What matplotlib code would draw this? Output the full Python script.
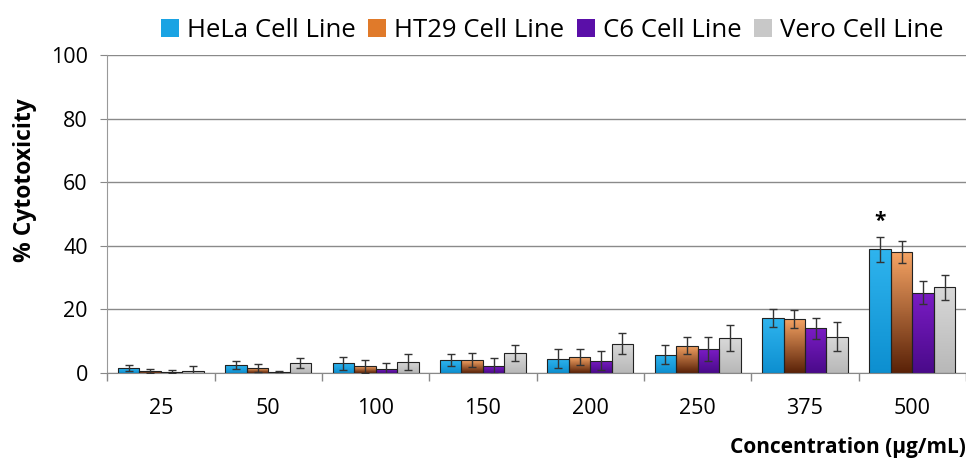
import numpy as np
import matplotlib.pyplot as plt
from matplotlib.colors import LinearSegmentedColormap
from matplotlib.patches import Patch

plt.rcParams['font.family'] = ['Open Sans', 'DejaVu Sans']

concentrations = ['25', '50', '100', '150', '200', '250', '375', '500']
series = ['HeLa Cell Line', 'HT29 Cell Line', 'C6 Cell Line', 'Vero Cell Line']

hela = [1.5, 2.5, 3.0, 4.0, 4.5, 5.7, 17.2, 38.9]
ht29 = [0.7, 1.5, 2.0, 4.0, 5.0, 8.5, 17.0, 38.1]
c6 = [0.3, 0.2, 1.2, 2.2, 3.8, 7.5, 14.0, 25.2]
vero = [0.5, 3.0, 3.5, 6.2, 9.2, 10.9, 11.4, 26.9]

hela_err = [1.0, 1.2, 2.0, 2.0, 3.0, 2.9, 2.8, 3.9]
ht29_err = [0.6, 1.2, 2.0, 2.2, 2.5, 2.7, 2.8, 3.5]
c6_err = [0.5, 0.5, 2.0, 2.5, 3.0, 3.7, 3.4, 3.6]
vero_err = [1.5, 1.6, 2.5, 2.6, 3.2, 4.0, 4.5, 4.0]

values = [hela, ht29, c6, vero]
errors = [hela_err, ht29_err, c6_err, vero_err]

# couleurs haut / bas du dégradé de chaque barre
grad = [('#2fb4ee', '#0d8fd0'),
        ('#f6a464', '#5a2208'),
        ('#7a1cc4', '#4a0a8a'),
        ('#d8d8d8', '#b8b8b8')]
legend_col = ['#1aa3e3', '#e07a2a', '#5a0fa8', '#c8c8c8']

fig = plt.figure(figsize=(9.66, 4.62), dpi=100)
ax = fig.add_axes([0.111, 0.193, 0.889, 0.688])

x = np.arange(len(concentrations))
w = 0.2
offsets = (np.arange(4) - 1.5) * w
g = np.linspace(0, 1, 64).reshape(-1, 1)

for i in range(4):
    cmap = LinearSegmentedColormap.from_list('c%d' % i, [grad[i][1], grad[i][0]])
    bars = ax.bar(x + offsets[i], values[i], w, color='none',
                  edgecolor='#222222', linewidth=0.8, zorder=3)
    for b in bars:
        x0 = b.get_x()
        h = b.get_height()
        im = ax.imshow(g, extent=[x0, x0 + w, 0, h], origin='lower',
                       aspect='auto', cmap=cmap, zorder=2)
        im.set_clip_path(b)
    ax.errorbar(x + offsets[i], values[i], yerr=errors[i], fmt='none',
                ecolor='#333333', elinewidth=1.0, capsize=3, capthick=1.0, zorder=4)

ax.text(x[-1] + offsets[0], hela[-1] + hela_err[-1] + 1.5, '*',
        ha='center', va='bottom', fontsize=15, fontweight='bold')

ax.set_xlim(-0.5, len(concentrations) - 0.5)
ax.set_ylim(0, 100)
ax.set_yticks([0, 20, 40, 60, 80, 100])
ax.yaxis.grid(True, color='#8a8a8a', linewidth=1.0)
ax.set_axisbelow(True)

ax.set_xticks(x)
ax.set_xticklabels(concentrations, fontsize=15.5)
ax.tick_params(axis='x', length=0, pad=18)
ax.set_xticks(np.arange(len(concentrations) + 1) - 0.5, minor=True)
ax.tick_params(axis='x', which='minor', length=6, color='#888888', width=1)
ax.tick_params(axis='y', length=5, color='#888888', labelsize=15.5, pad=9)

for s in ['top', 'right']:
    ax.spines[s].set_visible(False)
ax.spines['left'].set_color('#999999')
ax.spines['bottom'].set_color('#888888')

fig.text(0.026, 0.61, '% Cytotoxicity', rotation=90, ha='center', va='center',
         fontsize=16.5, fontweight='bold')
fig.text(1.0, 0.032, 'Concentration (µg/mL)', ha='right', va='center',
         fontsize=15, fontweight='bold')

handles = [Patch(facecolor=legend_col[i], edgecolor='none') for i in range(4)]
fig.legend(handles, series, loc='upper right', bbox_to_anchor=(0.995, 1.0),
           ncol=4, frameon=False, fontsize=18.5, handlelength=0.7, handleheight=0.7,
           handletextpad=0.3, columnspacing=0.5, borderpad=0.2)

fig.savefig('out.png', dpi=100)
